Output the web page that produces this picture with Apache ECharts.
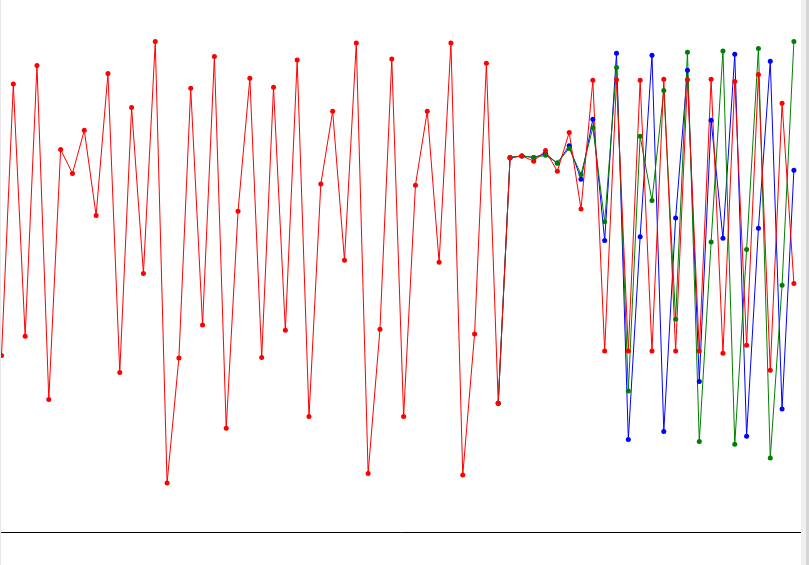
<!DOCTYPE html>
<html>
<head>
<meta charset="utf-8">
<script src="https://cdn.jsdelivr.net/npm/echarts@6/dist/echarts.min.js"></script>
<style>
html,body{margin:0;padding:0;background:#fff;overflow:hidden;}
#chart{position:absolute;left:0;top:0;width:809px;height:565px;}
#edgeL{position:absolute;left:0;top:0;width:1px;height:565px;background:#e8e8e8;}
#barA{position:absolute;left:801px;top:0;width:5px;height:565px;background:#f0f0f0;}
#barB{position:absolute;left:806px;top:0;width:3px;height:565px;background:#d6d6d6;}
</style>
</head>
<body>
<div id="chart"></div>
<div id="edgeL"></div>
<div id="barA"></div>
<div id="barB"></div>
<script>
// x positions are sample indices 0..67
var redValues = [33.2,84.2,36.8,87.7,24.9,71.9,67.4,75.5,59.5,86.2,30.0,79.8,48.6,92.2,9.2,32.7,83.4,38.9,89.4,19.5,
  60.3,85.3,32.8,83.6,37.9,88.7,21.7,65.4,79.1,51.1,91.9,11.0,38.1,88.9,21.7,65.2,79.1,50.7,91.9,10.7,
  37.2,88.1,24.2,70.3,70.7,69.7,71.7,67.8,75.1,60.7,84.9,34.0,85.0,34.0,84.9,34.0,85.1,34.0,85.0,34.0,
  85.1,33.6,84.7,35.1,86.0,30.4,80.6,46.7];
var blueValues = [null,null,null,null,null,null,null,null,null,null,null,null,null,null,null,null,null,null,null,null,
  null,null,null,null,null,null,null,null,null,null,null,null,null,null,null,null,null,null,null,null,
  null,null,24.2,70.4,70.7,70.4,71.1,69.3,72.6,66.3,77.6,54.8,90.0,17.4,55.5,89.6,18.9,59.0,86.8,28.3,
  77.4,55.2,89.8,18.0,57.1,88.5,23.1,68.0];
var greenValues = [null,null,null,null,null,null,null,null,null,null,null,null,null,null,null,null,null,null,null,null,
  null,null,null,null,null,null,null,null,null,null,null,null,null,null,null,null,null,null,null,null,
  null,null,24.2,70.4,70.7,70.4,70.8,69.4,72.1,67.2,76.0,58.3,87.3,26.5,74.4,62.3,83.0,40.0,90.2,17.0,
  54.5,90.4,16.5,53.1,90.9,13.9,46.4,92.2];

function pairs(arr){ return arr.map(function(v,i){ return [i, v]; }); }

var chart = echarts.init(document.getElementById('chart'), null, {renderer:'canvas'});
function mk(name, color, arr){
  return {
    name:name, type:'line', data:pairs(arr), connectNulls:false,
    symbol:'circle', symbolSize:5, showAllSymbol:true,
    lineStyle:{color:color, width:1},
    itemStyle:{color:color, borderWidth:0},
    emphasis:{disabled:true}
  };
}
chart.setOption({
  animation:false,
  grid:{left:1.5, right:8, top:0, bottom:33, containLabel:false},
  xAxis:{type:'value', min:0, max:67.6,
    axisLine:{show:true, onZero:false, lineStyle:{color:'#000', width:1}},
    axisTick:{show:false}, axisLabel:{show:false}, splitLine:{show:false}},
  yAxis:{type:'value', min:0, max:100,
    axisLine:{show:false}, axisTick:{show:false}, axisLabel:{show:false}, splitLine:{show:false}},
  series:[
    mk('blue','#0000ff',blueValues),
    mk('green','#008000',greenValues),
    mk('red','#ff0000',redValues)
  ]
});
</script>
</body>
</html>
